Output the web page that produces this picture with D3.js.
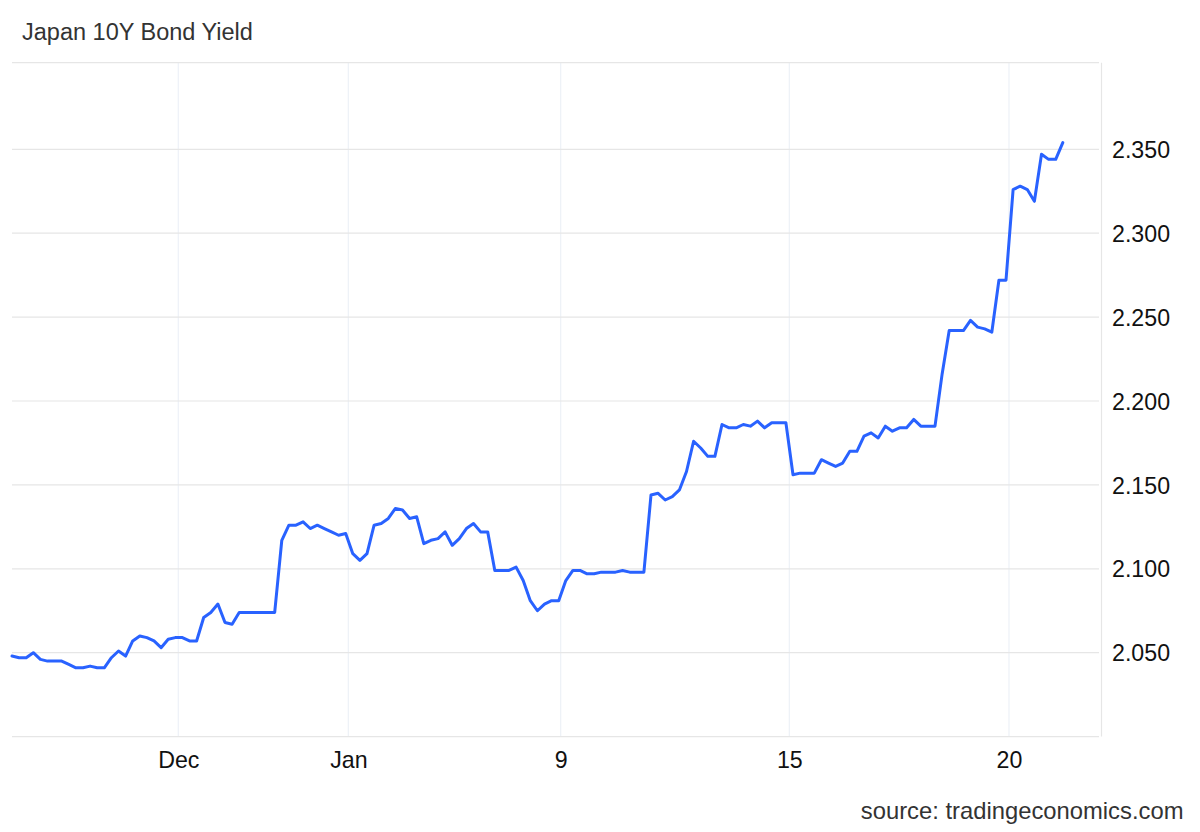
<!DOCTYPE html>
<html>
<head>
<meta charset="utf-8">
<script src="https://cdn.jsdelivr.net/npm/d3@7"></script>
<style>
  html, body { margin: 0; padding: 0; background: #fff; }
  svg { display: block; font-family: "Liberation Sans", Arial, Helvetica, sans-serif; }
</style>
</head>
<body>
<svg id="chart" width="1200" height="832"></svg>
<script>
// ---- data ----
const title = "Japan 10Y Bond Yield";
const source = "source: tradingeconomics.com";

const yields = [
  2.048, 2.047, 2.047, 2.050, 2.046, 2.045, 2.045, 2.045, 2.043, 2.041,
  2.041, 2.042, 2.041, 2.041, 2.047, 2.051, 2.048, 2.057, 2.060, 2.059,
  2.057, 2.053, 2.058, 2.059, 2.059, 2.057, 2.057, 2.071, 2.074, 2.079,
  2.068, 2.067, 2.074, 2.074, 2.074, 2.074, 2.074, 2.074, 2.117, 2.126,
  2.126, 2.128, 2.124, 2.126, 2.124, 2.122, 2.120, 2.121, 2.109, 2.105,
  2.109, 2.126, 2.127, 2.130, 2.136, 2.135, 2.130, 2.131, 2.115, 2.117,
  2.118, 2.122, 2.114, 2.118, 2.124, 2.127, 2.122, 2.122, 2.099, 2.099,
  2.099, 2.101, 2.093, 2.081, 2.075, 2.079, 2.081, 2.081, 2.093, 2.099,
  2.099, 2.097, 2.097, 2.098, 2.098, 2.098, 2.099, 2.098, 2.098, 2.098,
  2.144, 2.145, 2.141, 2.143, 2.147, 2.158, 2.176, 2.172, 2.167, 2.167,
  2.186, 2.184, 2.184, 2.186, 2.185, 2.188, 2.184, 2.187, 2.187, 2.187,
  2.156, 2.157, 2.157, 2.157, 2.165, 2.163, 2.161, 2.163, 2.170, 2.170,
  2.179, 2.181, 2.178, 2.185, 2.182, 2.184, 2.184, 2.189, 2.185, 2.185,
  2.185, 2.216, 2.242, 2.242, 2.242, 2.248, 2.244, 2.243, 2.241, 2.272,
  2.272, 2.326, 2.328, 2.326, 2.319, 2.347, 2.344, 2.344, 2.354
];

// x tick labels and their positions on the point-index axis
const xTickLabels = ["Dec", "Jan", "9", "15", "20"];
const xTickIndex  = [23.42, 47.37, 77.28, 109.48, 140.42];

// y tick values
const yTicks = [2.050, 2.100, 2.150, 2.200, 2.250, 2.300, 2.350];
const yDomain = [2.0, 2.4016];
const xDomain = [0, 153.45];

// ---- layout ----
const svg = d3.select("#chart");
const plotLeft = 12, plotRight = 1101.5, plotTop = 62.7, plotBottom = 736.6;

const x = d3.scaleLinear().domain(xDomain).range([plotLeft, plotRight]);
const y = d3.scaleLinear().domain(yDomain).range([plotBottom, plotTop]);

// vertical gridlines
svg.append("g").selectAll("line").data(xTickIndex).join("line")
  .attr("x1", d => x(d)).attr("x2", d => x(d))
  .attr("y1", plotTop).attr("y2", plotBottom)
  .attr("stroke", "#edf1f7").attr("stroke-width", 1.2);

// horizontal gridlines (incl. top border and baseline)
svg.append("g").selectAll("line").data([yDomain[1], ...yTicks, yDomain[0]]).join("line")
  .attr("x1", plotLeft).attr("x2", plotRight - 2.5)
  .attr("y1", d => y(d)).attr("y2", d => y(d))
  .attr("stroke", "#e6e6e6").attr("stroke-width", 1.2);

// right border
svg.append("line")
  .attr("x1", plotRight).attr("x2", plotRight)
  .attr("y1", plotTop).attr("y2", plotBottom)
  .attr("stroke", "#e6e6e6").attr("stroke-width", 1.2);

// y axis labels (right)
const yAxis = d3.axisRight(y).tickValues(yTicks).tickFormat(d3.format(".3f")).tickSize(0).tickPadding(0);
const gy = svg.append("g").attr("transform", `translate(${plotRight + 10.5},0)`).call(yAxis);
gy.select(".domain").remove();
gy.selectAll("text")
  .attr("font-family", "Liberation Sans, Arial, sans-serif")
  .attr("font-size", "23.2px").attr("fill", "#111")
  .attr("dy", "0.35em").attr("x", 0);

// x axis labels
const xAxis = d3.axisBottom(x).tickValues(xTickIndex)
  .tickFormat((d, i) => xTickLabels[i]).tickSize(0).tickPadding(0);
const gx = svg.append("g").attr("transform", `translate(0,${plotBottom})`).call(xAxis);
gx.select(".domain").remove();
gx.selectAll("text")
  .attr("font-family", "Liberation Sans, Arial, sans-serif")
  .attr("font-size", "23.2px").attr("fill", "#111")
  .attr("dy", 0).attr("y", 31.4);

// line
const line = d3.line().x((d, i) => x(i)).y(d => y(d));
svg.append("path").datum(yields)
  .attr("d", line)
  .attr("fill", "none")
  .attr("stroke", "#2962ff")
  .attr("stroke-width", 3)
  .attr("stroke-linejoin", "round")
  .attr("stroke-linecap", "round");

// title
svg.append("text").attr("x", 22).attr("y", 40)
  .attr("font-size", "23.5px").attr("fill", "#333").text(title);

// source
svg.append("text").attr("x", 1183.5).attr("y", 819)
  .attr("text-anchor", "end")
  .attr("font-size", "23.8px").attr("fill", "#333").text(source);
</script>
</body>
</html>
